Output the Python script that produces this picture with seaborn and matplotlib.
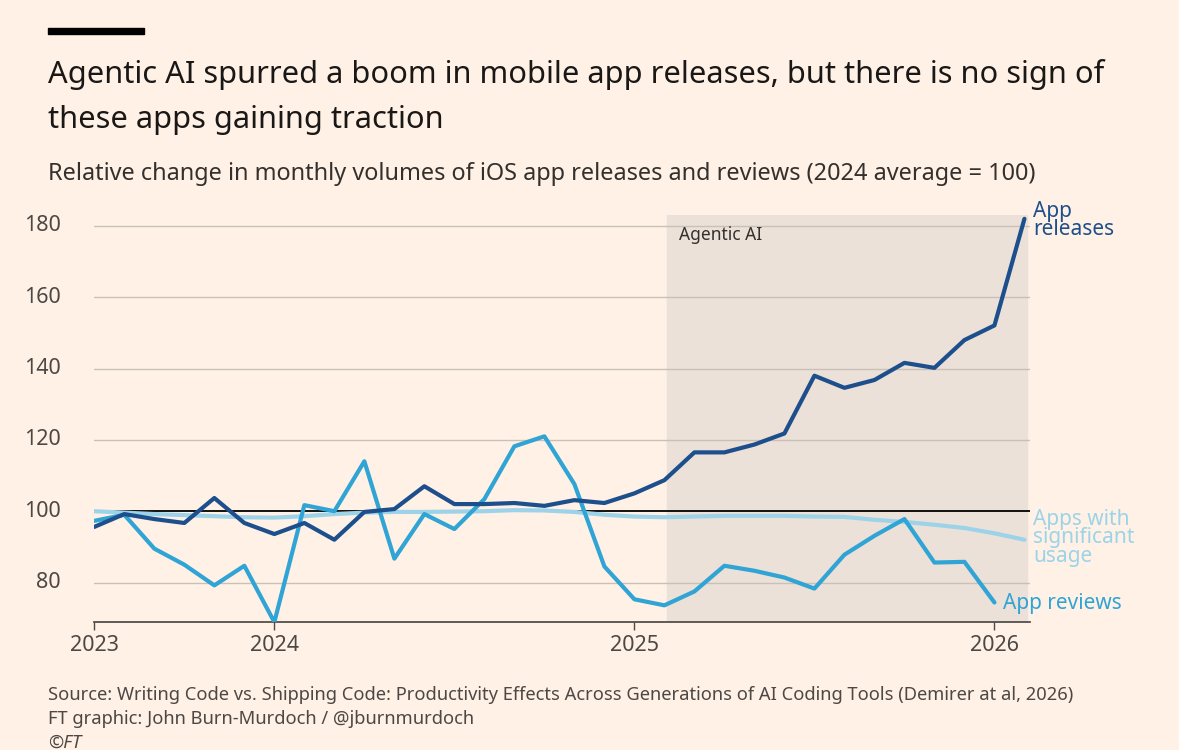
import numpy as np
import pandas as pd
import matplotlib
matplotlib.use("Agg")
import matplotlib.pyplot as plt
import seaborn as sns

# 2023 is bi-monthly, then monthly from Jan 2024 to Feb 2026 (index positions)
idx = list(range(32))
app_releases = [95.6, 99.2, 97.8, 96.7, 103.7, 96.7, 93.6, 96.7, 92.0, 99.8, 100.6, 107.0,
                102.0, 102.0, 102.3, 101.5, 103.1, 102.3, 105.0, 108.7, 116.5, 116.5, 118.7,
                121.8, 138.0, 134.6, 136.8, 141.6, 140.2, 148.0, 152.1, 182.0]
app_reviews = [97.3, 99.0, 89.5, 85.0, 79.2, 84.7, 68.9, 101.7, 100.0, 114.0, 86.7, 99.2,
               95.0, 103.4, 118.2, 121.0, 107.6, 84.5, 75.3, 73.6, 77.5, 84.7, 83.3, 81.4,
               78.3, 87.8, 93.1, 97.8, 85.6, 85.8, 74.4]
sig_usage = [100.0, 99.6, 99.2, 98.9, 98.6, 98.3, 98.2, 98.6, 99.2, 99.6, 99.8, 99.8,
             99.9, 100.0, 100.3, 100.2, 99.8, 99.0, 98.5, 98.3, 98.5, 98.7, 98.7, 98.7,
             98.5, 98.4, 97.6, 97.0, 96.2, 95.3, 93.8, 92.0]
year_ticks = [0, 6, 18, 30]
year_labels = ["2023", "2024", "2025", "2026"]
y_ticks = [80, 100, 120, 140, 160, 180]

bg = "#fff1e5"
dark = "#1d4f8c"
mid = "#2fa4d5"
light = "#9dd3e8"

sns.set_theme(style="white")
plt.rcParams["font.family"] = ["Noto Sans", "DejaVu Sans"]

fig = plt.figure(figsize=(11.79, 7.5), dpi=100, facecolor=bg)
ax = fig.add_axes([0.08, 0.171, 0.794, 0.542], facecolor=bg)

ax.axvspan(19.1, 31.1, color="#ebe1d8", zorder=0)
ax.text(19.5, 177.5, "Agentic AI", fontsize=12.5, color="#33302e", va="center")

for t in y_ticks:
    ax.axhline(t, color="#000000" if t == 100 else "#c9c0b8", lw=1.3 if t == 100 else 1, zorder=1)
    ax.text(-0.036, t, str(t), transform=ax.get_yaxis_transform(), fontsize=15.5,
            color="#4d4845", ha="right", va="center")

df = pd.DataFrame({"i": idx, "releases": app_releases, "usage": sig_usage})
sns.lineplot(data=df, x="i", y="usage", color=light, lw=3, ax=ax, zorder=3)
sns.lineplot(x=idx[:len(app_reviews)], y=app_reviews, color=mid, lw=3, ax=ax, zorder=4)
sns.lineplot(data=df, x="i", y="releases", color=dark, lw=3, ax=ax, zorder=5)

ax.text(31.3, 181.5, "App\nreleases", color=dark, fontsize=15, va="center", linespacing=0.85,
        fontweight="semibold")
ax.text(31.3, 92.5, "Apps with\nsignificant\nusage", color=light, fontsize=15, va="center",
        linespacing=0.85, fontweight="semibold")
ax.text(30.3, 74.0, "App reviews", color=mid, fontsize=15, va="center", fontweight="semibold")

ax.set_xlim(0, 31.2)
ax.set_ylim(69, 183)
ax.set_xticks(year_ticks)
ax.set_xticklabels(year_labels, fontsize=15.5, color="#4d4845")
ax.set_yticks([])
ax.set_xlabel("")
ax.set_ylabel("")
ax.tick_params(axis="x", length=6, width=1, color="#4d4845", direction="out", bottom=True)
for s in ["top", "right", "left"]:
    ax.spines[s].set_visible(False)
ax.spines["bottom"].set_color("#4d4845")

fig.patches.append(plt.Rectangle((0.041, 0.955), 0.081, 0.007, color="black",
                                 transform=fig.transFigure))
fig.text(0.041, 0.90, "Agentic AI spurred a boom in mobile app releases, but there is no sign of",
         fontsize=22.2, color="#1a1817", va="center")
fig.text(0.041, 0.84, "these apps gaining traction", fontsize=22.2, color="#1a1817", va="center")
fig.text(0.041, 0.768, "Relative change in monthly volumes of iOS app releases and reviews (2024 average = 100)",
         fontsize=16.9, color="#33302e", va="center")
fig.text(0.041, 0.073, "Source: Writing Code vs. Shipping Code: Productivity Effects Across Generations of AI Coding Tools (Demirer at al, 2026)",
         fontsize=13.2, color="#4d4845", va="center")
fig.text(0.041, 0.041, "FT graphic: John Burn-Murdoch / @jburnmurdoch", fontsize=13.2, color="#4d4845", va="center")
fig.text(0.041, 0.010, "©FT", fontsize=13.2, color="#4d4845", va="center", style="italic")

fig.savefig("out.png", dpi=100, facecolor=bg)
